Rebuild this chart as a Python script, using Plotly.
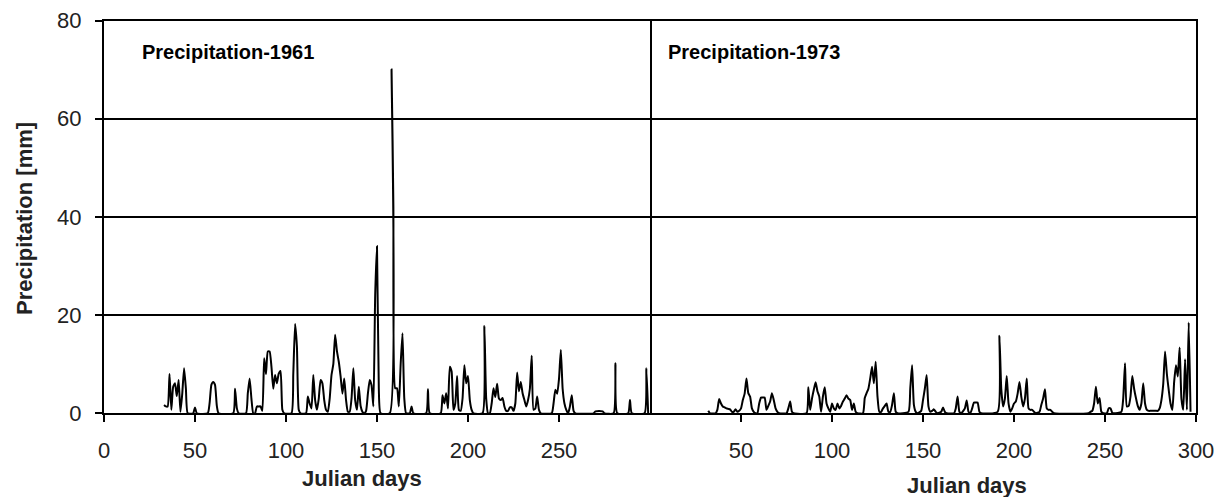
import plotly.graph_objects as go

# Daily precipitation (Julian day, mm) for the two seasons
days_1961 = [33, 34, 35, 36, 37, 38, 39, 40, 41, 42, 43, 44, 45, 46,
             49, 50, 51, 57, 58, 59, 60, 61, 62, 63, 71, 72, 73, 74,
             78, 79, 80, 81, 82, 83, 84, 85, 86, 87, 88, 89, 90, 91, 92, 93,
             94, 95, 96, 97, 98, 99, 103, 104, 105, 106, 107, 108,
             111, 112, 113, 114, 115, 116, 117, 118, 119, 120, 121, 122, 123,
             124, 125, 126, 127, 128, 129, 130, 131, 132, 133, 134, 135, 136,
             137, 138, 139, 140, 141, 142, 143, 144, 145, 146, 147, 148, 149,
             150, 151, 152, 157, 158, 159, 160, 161, 162, 163, 164, 165, 166,
             168, 169, 170, 177, 178, 179, 185, 186, 187, 188, 189, 190, 191,
             192, 193, 194, 195, 196, 197, 198, 199, 200, 201, 202, 203, 208,
             209, 210, 211, 212, 213, 214, 215, 216, 217, 218, 219, 220, 221,
             222, 223, 224, 225, 226, 227, 228, 229, 230, 231, 232, 233, 234,
             235, 236, 237, 238, 239, 240, 246, 247, 248, 249, 250, 251, 252,
             253, 254, 255, 256, 257, 258, 259, 269, 270, 274, 275, 280, 281,
             282, 288, 289, 290, 297, 298, 299]
precip_1961 = [1.7, 1.4, 1.4, 8.0, 0.7, 5.4, 6.1, 3.5, 6.8, 0.3, 4.0, 9.2, 5.0, 0,
               0, 1.2, 0, 0, 2.0, 5.8, 6.4, 5.8, 1.5, 0, 0, 5.0, 1.0, 0,
               0, 4.0, 7.1, 3.0, 0, 0, 1.4, 1.4, 1.4, 0.5, 11.2, 8.0, 12.6, 12.6, 9.5, 5.0,
               7.8, 6.1, 8.1, 8.6, 0.7, 0, 0, 8.0, 18.2, 13.6, 0.7, 0,
               0, 3.4, 2.0, 1.0, 7.8, 2.7, 0.7, 3.0, 6.8, 6.1, 2.7, 0.7, 0.3,
               3.0, 7.8, 10.0, 16.0, 12.6, 10.5, 7.5, 4.0, 7.1, 2.7, 0.3, 0.3, 3.0,
               9.2, 2.7, 0.7, 5.4, 1.5, 0.3, 0, 0.5, 4.0, 6.8, 5.7, 1.4, 24.0,
               34.0, 5.0, 0, 0, 70.0, 42.0, 5.1, 5.1, 1.4, 10.0, 16.3, 3.0, 0,
               0, 1.4, 0, 0, 4.9, 0, 0, 3.7, 2.0, 4.1, 1.0, 9.5, 8.5,
               0.7, 2.0, 7.6, 0.7, 0.5, 3.0, 9.8, 6.1, 7.6, 2.7, 0.7, 0, 0,
               17.8, 3.0, 0, 0, 2.0, 5.1, 3.3, 6.0, 3.0, 2.7, 3.1, 1.4, 0.5,
               0.5, 1.2, 1.2, 0.5, 2.0, 8.3, 4.5, 6.4, 4.1, 2.7, 1.4, 2.7, 5.0,
               11.7, 0.7, 1.0, 3.4, 0.7, 0, 0, 2.0, 4.8, 4.0, 7.0, 12.9, 5.0,
               2.0, 0.7, 0, 1.4, 3.7, 0.5, 0, 0, 0.4, 0.4, 0, 0, 10.2,
               0, 0, 2.7, 0, 0, 9.2, 0]

days_1973 = [32, 33, 36, 37, 38, 39, 40, 41, 42, 43, 44, 45, 46, 47, 48, 49,
             50, 51, 52, 53, 54, 55, 56, 57, 58, 59, 60, 61, 62, 63, 64, 65,
             66, 67, 68, 69, 70, 71, 75, 76, 77, 78, 79, 86, 87, 88, 89, 90,
             91, 92, 93, 94, 95, 96, 97, 98, 99, 100, 101, 102, 103, 104, 105,
             106, 107, 108, 109, 110, 111, 112, 113, 114, 117, 118, 119, 120,
             121, 122, 123, 124, 125, 126, 127, 128, 129, 130, 131, 132, 133,
             134, 135, 136, 142, 143, 144, 145, 146, 147, 149, 150, 151, 152,
             153, 154, 155, 156, 157, 158, 160, 161, 162, 163, 167, 168, 169,
             170, 171, 173, 174, 175, 176, 177, 178, 179, 180, 181, 182, 191,
             192, 193, 194, 195, 196, 197, 198, 199, 200, 201, 202, 203, 204,
             205, 206, 207, 208, 209, 210, 211, 212, 214, 215, 216, 217, 218,
             219, 220, 221, 222, 241, 242, 243, 244, 245, 246, 247, 248, 249,
             251, 252, 253, 254, 255, 259, 260, 261, 262, 263, 264, 265, 266,
             267, 268, 269, 270, 271, 272, 273, 274, 275, 276, 277, 278, 279,
             280, 281, 282, 283, 284, 285, 286, 287, 288, 289, 290, 291, 292,
             293, 294, 295, 296, 297]
precip_1973 = [0.5, 0, 0, 0.7, 2.9, 2.0, 1.4, 1.2, 1.0, 0.9, 0.8, 0.3, 0.3, 0.8, 0.3, 0.5,
               1.0, 2.7, 4.0, 7.1, 4.1, 3.4, 1.0, 0.3, 0, 0, 2.0, 3.2, 3.2, 3.2, 0.7, 1.5,
               2.4, 4.1, 2.7, 1.0, 0.3, 0, 0, 1.0, 2.4, 0.3, 0, 0, 5.3, 0.7, 3.0, 4.8,
               6.3, 4.5, 3.4, 0.3, 3.4, 5.3, 2.0, 1.0, 0.3, 2.0, 1.0, 0.7, 2.0, 1.0, 1.5,
               2.4, 3.0, 3.7, 3.0, 2.7, 0.7, 2.0, 0.3, 0, 0, 3.1, 4.1, 5.0,
               7.1, 9.5, 6.1, 10.5, 3.4, 0.3, 0.3, 1.0, 1.5, 2.0, 0.3, 0.3, 1.7,
               4.1, 0.3, 0, 0.3, 5.0, 9.8, 1.7, 0.3, 0, 0.5, 2.7, 5.0, 7.8,
               1.4, 0.3, 0.5, 0.8, 0.3, 0, 0.3, 1.2, 0.3, 0, 0, 1.0, 3.4,
               0.3, 0, 1.0, 2.6, 0.3, 0, 1.0, 2.2, 2.2, 2.2, 0.3, 0, 0.3,
               15.8, 5.0, 1.4, 3.0, 7.6, 2.0, 0.3, 1.0, 2.0, 2.4, 4.0, 6.4, 3.4,
               1.4, 3.0, 7.1, 1.0, 0.7, 0.7, 0.3, 0, 0.3, 1.7, 3.0, 4.9, 1.0,
               0.7, 0.7, 0.3, 0, 0, 0.3, 0.5, 2.0, 5.4, 2.0, 3.1, 0.3, 0,
               0, 1.0, 1.0, 0.1, 0, 0.3, 3.0, 10.2, 1.4, 1.5, 3.4, 7.6, 5.0,
               3.1, 1.5, 0.7, 2.0, 6.1, 2.0, 0.7, 0.5, 0.5, 0.5, 0.5, 0.5, 0.5,
               1.0, 2.7, 6.0, 12.6, 8.0, 4.8, 2.0, 0.7, 6.4, 9.8, 7.5, 13.4, 3.0,
               0.7, 11.0, 0.7, 18.5, 0.3]

x_ticks_1961 = [0, 50, 100, 150, 200, 250]
x_ticks_1973 = [50, 100, 150, 200, 250, 300]
y_ticks = [0, 20, 40, 60, 80]

W, H = 1218, 497
FONT = "Liberation Sans, Arial, sans-serif"


def px_x(p):
    return p / W


def px_y(p):
    return 1 - p / H


line_style = dict(color="black", width=2, shape="spline", smoothing=0.5)

fig = go.Figure()
fig.add_trace(go.Scatter(x=days_1961, y=precip_1961, mode="lines",
                         line=line_style, xaxis="x", yaxis="y",
                         showlegend=False))
fig.add_trace(go.Scatter(x=days_1973, y=precip_1973, mode="lines",
                         line=line_style, xaxis="x2", yaxis="y2",
                         showlegend=False))

left_dom = [px_x(104), px_x(650)]
right_dom = [px_x(650), px_x(1196)]
y_dom = [px_y(413.3), px_y(20.5)]

common_x = dict(range=[0, 300], showgrid=False, zeroline=False,
                showline=True, linecolor="black", linewidth=2, mirror=True,
                ticks="outside", ticklen=7, tickwidth=1.5, tickcolor="black",
                ticklabelstandoff=9, automargin=False,
                tickfont=dict(family=FONT, size=22, color="#222"))
common_y = dict(range=[0, 80], tickvals=y_ticks, showgrid=True,
                gridcolor="black", gridwidth=1.6, zeroline=False,
                showline=True, linecolor="black", linewidth=2,
                automargin=False)

fig.update_layout(
    width=W, height=H, autosize=False,
    margin=dict(l=0, r=0, t=0, b=0, pad=0, autoexpand=False),
    paper_bgcolor="white", plot_bgcolor="white",
    xaxis=dict(domain=left_dom, tickvals=x_ticks_1961, anchor="y", **common_x),
    xaxis2=dict(domain=right_dom, tickvals=x_ticks_1973, anchor="y2", **common_x),
    yaxis=dict(domain=y_dom, anchor="x", ticks="outside", ticklen=7,
               tickwidth=1.5, tickcolor="black", ticklabelstandoff=9,
               mirror=True,
               tickfont=dict(family=FONT, size=22, color="#222"), **common_y),
    # the right panel only draws its outer (right-hand) frame edge
    yaxis2=dict(domain=y_dom, anchor="x2", side="right", showticklabels=False,
                ticks="", mirror=False, **common_y),
)

title_font = dict(family=FONT, size=22, color="#222")
panel_font = dict(family=FONT, size=20, color="black")
annotations = [
    dict(text="<b>Precipitation [mm]</b>", x=px_x(24), y=px_y(219),
         textangle=-90, font=title_font),
    dict(text="<b>Julian days</b>", x=px_x(362), y=px_y(478), font=title_font),
    dict(text="<b>Julian days</b>", x=px_x(967), y=px_y(485), font=title_font),
    dict(text="<b>Precipitation-1961</b>", x=px_x(140), y=px_y(52),
         xanchor="left", font=panel_font),
    dict(text="<b>Precipitation-1973</b>", x=px_x(666), y=px_y(52),
         xanchor="left", font=panel_font),
]
for a in annotations:
    a.setdefault("xanchor", "center")
    a.update(xref="paper", yref="paper", yanchor="middle", showarrow=False)
fig.update_layout(annotations=annotations)

fig.write_html("out.html")
